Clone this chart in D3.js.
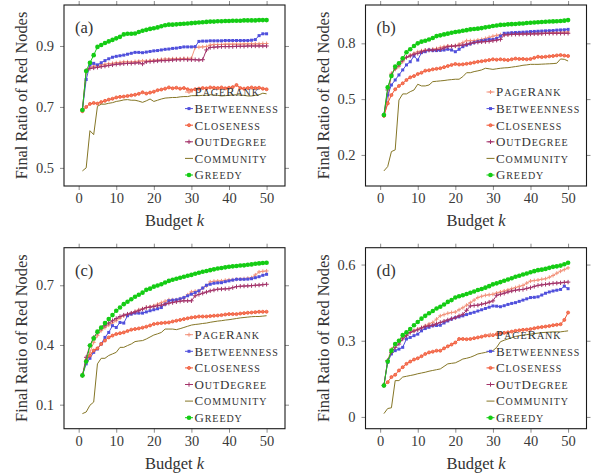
<!DOCTYPE html>
<html>
<head>
<meta charset="utf-8">
<script src="https://cdn.jsdelivr.net/npm/d3@7"></script>
<style>
  body { margin: 0; background: #fff; }
</style>
</head>
<body>
<div id="chart"></div>
<script>
const budgets = d3.range(1, 51)
const xTicks = [0, 10, 20, 30, 40, 50]
const seriesNames = ["PageRank", "Betweenness", "Closeness", "OutDegree", "Community", "Greedy"]
const panelLabels = ["(a)", "(b)", "(c)", "(d)"]
const yTicksA = [0.5, 0.7, 0.9]
const yTicksB = [0.2, 0.5, 0.8]
const yTicksC = [0.1, 0.4, 0.7]
const yTicksD = [0, 0.3, 0.6]

const pagerankA = [.690,.818,.830,.834,.835,.838,.840,.842,.843,.845,.846,.848,.848,.847,.849,.850,.851,.850,.852,.853,.854,.856,.857,.857,.858,.858,.858,.859,.859,.860,.895,.896,.897,.898,.903,.905,.905,.905,.906,.906,.906,.906,.906,.907,.907,.907,.907,.907,.908,.908]
const betweennessA = [.690,.790,.838,.843,.838,.845,.852,.858,.863,.866,.868,.870,.873,.876,.879,.879,.878,.880,.882,.884,.885,.887,.889,.890,.892,.893,.895,.897,.897,.897,.898,.915,.916,.916,.917,.917,.917,.917,.918,.918,.918,.918,.918,.918,.918,.919,.921,.934,.940,.940]
const closenessA = [.686,.700,.710,.713,.711,.716,.720,.724,.727,.731,.733,.734,.736,.738,.740,.743,.748,.744,.747,.750,.755,.757,.760,.764,.761,.763,.760,.762,.758,.755,.758,.760,.762,.761,.764,.763,.762,.764,.761,.763,.765,.772,.762,.760,.762,.764,.762,.763,.760,.758]
const communityA = [.490,.500,.622,.609,.702,.709,.709,.712,.714,.718,.720,.723,.724,.722,.722,.719,.715,.720,.726,.718,.722,.726,.729,.730,.731,.731,.733,.734,.734,.737,.737,.737,.738,.738,.740,.739,.738,.736,.737,.738,.739,.740,.739,.738,.736,.736,.738,.740,.745,.743]
const outdegreeA = [.690,.820,.826,.828,.830,.832,.834,.836,.838,.840,.841,.842,.843,.843,.844,.845,.841,.848,.849,.850,.851,.852,.852,.853,.854,.855,.855,.856,.855,.855,.855,.854,.855,.887,.895,.896,.897,.898,.898,.898,.898,.899,.899,.899,.900,.900,.900,.900,.900,.900]
const greedyA = [.690,.818,.845,.870,.897,.903,.910,.915,.920,.925,.930,.938,.940,.940,.941,.946,.950,.953,.956,.958,.961,.965,.968,.970,.970,.971,.972,.973,.974,.975,.976,.977,.978,.979,.980,.980,.981,.981,.982,.982,.983,.983,.983,.984,.984,.984,.984,.985,.985,.985]

const pagerankB = [.410,.474,.639,.660,.675,.701,.725,.737,.746,.755,.760,.764,.766,.768,.772,.778,.782,.786,.786,.786,.795,.804,.814,.814,.814,.818,.821,.826,.832,.838,.843,.846,.848,.851,.854,.854,.854,.854,.854,.855,.855,.856,.856,.857,.857,.858,.858,.859,.860,.861]
const betweennessB = [.415,.522,.576,.603,.630,.657,.684,.701,.732,.710,.750,.755,.764,.761,.761,.762,.764,.768,.764,.755,.768,.782,.791,.797,.804,.809,.814,.817,.821,.821,.827,.839,.854,.855,.857,.858,.859,.860,.861,.863,.864,.865,.866,.867,.868,.869,.871,.872,.873,.875]
const closenessB = [.410,.478,.522,.553,.571,.585,.603,.617,.624,.635,.642,.653,.655,.660,.663,.666,.672,.678,.684,.689,.686,.687,.690,.693,.697,.701,.704,.707,.710,.714,.712,.714,.712,.710,.714,.718,.716,.716,.714,.716,.722,.728,.726,.728,.730,.732,.735,.737,.734,.732]
const communityB = [.114,.137,.218,.227,.495,.528,.528,.540,.549,.580,.571,.571,.576,.594,.596,.598,.600,.603,.605,.607,.607,.621,.642,.642,.648,.652,.657,.666,.663,.660,.663,.666,.668,.669,.672,.675,.678,.682,.684,.687,.687,.687,.688,.689,.690,.691,.693,.716,.714,.705]
const outdegreeB = [.415,.549,.630,.666,.684,.710,.725,.732,.741,.746,.754,.761,.763,.764,.766,.768,.775,.782,.784,.786,.788,.791,.795,.800,.804,.806,.808,.809,.811,.814,.817,.821,.845,.846,.848,.849,.849,.850,.850,.850,.851,.851,.852,.853,.854,.854,.854,.854,.854,.854]
const greedyB = [.415,.563,.624,.675,.693,.720,.752,.768,.786,.800,.809,.814,.821,.829,.839,.843,.848,.852,.857,.861,.864,.868,.871,.875,.877,.879,.882,.886,.889,.893,.896,.899,.900,.902,.903,.904,.906,.907,.909,.911,.912,.913,.915,.916,.917,.918,.919,.920,.922,.925]

const pagerankC = [.247,.317,.363,.413,.447,.472,.487,.500,.511,.522,.535,.547,.553,.560,.568,.577,.582,.588,.592,.597,.605,.613,.620,.627,.627,.627,.632,.638,.652,.667,.670,.672,.685,.697,.717,.720,.721,.722,.725,.727,.728,.730,.731,.733,.735,.738,.752,.767,.770,.772]
const betweennessC = [.247,.305,.333,.363,.380,.405,.438,.463,.497,.488,.513,.510,.547,.555,.560,.560,.560,.566,.572,.577,.582,.588,.605,.622,.625,.627,.632,.638,.647,.655,.663,.672,.686,.700,.705,.710,.712,.713,.718,.722,.726,.730,.730,.730,.731,.733,.738,.743,.750,.755]
const closenessC = [.247,.322,.347,.372,.383,.405,.422,.438,.447,.455,.459,.463,.470,.477,.480,.483,.487,.492,.498,.505,.508,.510,.512,.513,.518,.522,.526,.530,.534,.538,.540,.543,.543,.543,.545,.547,.548,.550,.553,.555,.555,.555,.558,.560,.562,.563,.565,.567,.567,.567]
const communityC = [.055,.063,.097,.113,.305,.333,.333,.347,.355,.363,.388,.388,.397,.405,.417,.420,.422,.430,.440,.450,.456,.463,.480,.480,.480,.477,.482,.488,.494,.500,.503,.505,.508,.510,.514,.517,.520,.522,.525,.527,.530,.533,.536,.538,.540,.542,.543,.543,.545,.547]
const outdegreeC = [.247,.338,.397,.438,.463,.483,.497,.510,.522,.533,.543,.550,.555,.560,.566,.572,.580,.588,.590,.593,.597,.600,.605,.610,.613,.617,.620,.622,.622,.622,.647,.654,.660,.666,.672,.676,.680,.681,.682,.683,.688,.693,.695,.696,.697,.698,.700,.701,.703,.705]
const greedyC = [.247,.317,.397,.433,.467,.488,.510,.530,.550,.572,.588,.605,.617,.630,.642,.652,.663,.677,.683,.693,.699,.705,.714,.722,.728,.733,.738,.743,.748,.752,.758,.763,.768,.772,.776,.780,.784,.787,.790,.793,.795,.797,.799,.800,.803,.805,.808,.810,.812,.813]

const pagerankD = [.124,.222,.267,.287,.300,.313,.323,.333,.340,.346,.352,.359,.366,.372,.385,.398,.403,.408,.411,.413,.422,.430,.440,.450,.460,.470,.475,.479,.481,.483,.488,.492,.496,.500,.505,.509,.514,.518,.527,.535,.537,.539,.542,.544,.550,.557,.566,.574,.580,.587]
const betweennessD = [.124,.215,.248,.261,.267,.274,.307,.313,.320,.326,.339,.348,.353,.359,.360,.361,.370,.378,.385,.391,.394,.398,.403,.408,.412,.417,.422,.427,.432,.437,.436,.434,.438,.443,.447,.450,.455,.460,.465,.470,.471,.473,.480,.487,.492,.496,.499,.502,.515,.505]
const closenessD = [.124,.137,.157,.166,.183,.196,.209,.218,.226,.231,.239,.248,.254,.257,.261,.261,.270,.278,.285,.293,.307,.307,.306,.307,.310,.313,.316,.320,.321,.322,.326,.330,.331,.333,.336,.339,.341,.343,.344,.346,.349,.352,.354,.356,.358,.361,.363,.365,.382,.411]
const communityD = [.013,.033,.036,.143,.143,.157,.160,.163,.166,.170,.173,.176,.180,.183,.186,.189,.199,.209,.211,.213,.220,.228,.231,.235,.241,.248,.251,.254,.258,.261,.274,.296,.302,.307,.312,.317,.320,.322,.324,.326,.328,.330,.332,.333,.334,.335,.335,.335,.337,.339]
const outdegreeD = [.124,.222,.254,.274,.287,.307,.320,.333,.338,.343,.350,.356,.359,.361,.367,.372,.377,.382,.387,.391,.398,.404,.420,.437,.439,.440,.444,.447,.452,.457,.479,.483,.487,.492,.496,.499,.501,.502,.506,.509,.514,.518,.520,.522,.524,.526,.527,.528,.530,.531]
const greedyD = [.124,.218,.261,.287,.300,.322,.333,.346,.361,.374,.387,.398,.408,.417,.427,.434,.443,.453,.460,.470,.475,.479,.484,.489,.494,.500,.504,.509,.515,.522,.526,.531,.536,.541,.546,.552,.556,.561,.565,.570,.574,.578,.580,.583,.587,.591,.593,.596,.601,.607]

const panelSeries = [
    [pagerankA, betweennessA, closenessA, outdegreeA, communityA, greedyA],
    [pagerankB, betweennessB, closenessB, outdegreeB, communityB, greedyB],
    [pagerankC, betweennessC, closenessC, outdegreeC, communityC, greedyC],
    [pagerankD, betweennessD, closenessD, outdegreeD, communityD, greedyD]]
const panelYTicks = [yTicksA, yTicksB, yTicksC, yTicksD]

// look of each series: colour and marker
const styles = [
    {color: "#f2937c", mark: "plus", size: 2},
    {color: "#5050dc", mark: "square", size: 1.5},
    {color: "#f05434", mark: "circle", size: 1.5},
    {color: "#a3336a", mark: "plus", size: 2.2},
    {color: "#857626", mark: "none", size: 0},
    {color: "#14cc14", mark: "dot", size: 2.3}]

const W = 593, H = 476
const pw = 221, ph = 181
const origins = [[64, 5], [365.5, 5], [64, 247.7], [365.5, 247.7]]
const serif = '"Liberation Serif", "Times New Roman", serif'

let svg = d3.select("#chart").append("svg")
    .attr("width", W).attr("height", H)
    .style("background", "#fff")

// small caps like the LaTeX legend: capitals big, the rest as smaller capitals
function smallCaps(textSel, str, big, small) {
    let runs = []
    for (let ch of str) {
        let up = ch === ch.toUpperCase()
        if (runs.length && runs[runs.length - 1].up === up) runs[runs.length - 1].s += ch
        else runs.push({up: up, s: ch})
    }
    textSel.selectAll("tspan").data(runs).enter().append("tspan")
        .attr("font-size", d => d.up ? big : small)
        .text(d => d.s.toUpperCase())
}

function drawMark(g, st, x, y) {
    if (st.mark === "plus") {
        g.append("path").attr("transform", `translate(${x},${y})`)
            .attr("d", `M${-st.size},0H${st.size}M0,${-st.size}V${st.size}`)
            .attr("stroke", st.color).attr("stroke-width", 1).attr("fill", "none")
    } else if (st.mark === "square") {
        g.append("rect").attr("x", x - st.size).attr("y", y - st.size)
            .attr("width", st.size * 2).attr("height", st.size * 2).attr("fill", st.color)
    } else if (st.mark === "circle") {
        g.append("circle").attr("cx", x).attr("cy", y).attr("r", st.size)
            .attr("fill", "#f47a5c").attr("stroke", st.color).attr("stroke-width", 0.8)
    } else if (st.mark === "dot") {
        g.append("circle").attr("cx", x).attr("cy", y).attr("r", st.size).attr("fill", st.color)
    }
}

function drawPanel(i) {
    let [ox, oy] = origins[i]
    let data = panelSeries[i]
    let g = svg.append("g").attr("transform", `translate(${ox},${oy})`)

    // pgfplots style: 10% enlargement of the data range on each side
    let xs = d3.scaleLinear().domain([1 - 4.9, 50 + 4.9]).range([0, pw])
    let ext = d3.extent(data.flat())
    let pad = (ext[1] - ext[0]) * 0.1
    let ys = d3.scaleLinear().domain([ext[0] - pad, ext[1] + pad]).range([ph, 0])

    let styleAxis = (a) => {
        a.attr("font-family", null)
        a.select(".domain").remove()
        a.selectAll("line").attr("stroke", "#8c8c8c")
        a.selectAll("text").style("font-family", serif).style("font-size", "14.5px").attr("fill", "#3a3a3a")
    }
    let yt = panelYTicks[i]
    g.append("g").call(d3.axisLeft(ys).tickValues(yt).tickSize(4).tickPadding(6).tickFormat(d => String(d))).call(styleAxis)
    g.append("g").attr("transform", `translate(${pw},0)`)
        .call(d3.axisRight(ys).tickValues(yt).tickSize(4).tickFormat("")).call(styleAxis)
    g.append("g").attr("transform", `translate(0,${ph})`)
        .call(d3.axisBottom(xs).tickValues(xTicks).tickSize(4).tickPadding(3)).call(styleAxis)
    g.append("g").call(d3.axisTop(xs).tickValues(xTicks).tickSize(4).tickFormat("")).call(styleAxis)

    // lines then markers, in legend order so Greedy ends on top
    let plot = g.append("g")
    data.forEach((vals, s) => {
        let st = styles[s]
        let line = d3.line().x((d, j) => xs(budgets[j])).y(d => ys(d))
        plot.append("path").attr("d", line(vals))
            .attr("fill", "none").attr("stroke", st.color).attr("stroke-width", 1)
        let mg = plot.append("g")
        vals.forEach((v, j) => drawMark(mg, st, xs(budgets[j]), ys(v)))
    })

    // legend, no box
    let leg = g.append("g")
    seriesNames.forEach((name, s) => {
        let cy = 87 + s * 16.6
        let st = styles[s]
        leg.append("line").attr("x1", 121).attr("x2", 129).attr("y1", cy).attr("y2", cy)
            .attr("stroke", st.color).attr("stroke-width", 1)
        drawMark(leg, st, 125, cy)
        let t = leg.append("text").attr("x", 130.5).attr("y", cy + 4.3)
            .style("font-family", serif).attr("fill", "#333").attr("letter-spacing", 0.9)
        smallCaps(t, name, 13, 10)
    })

    g.append("rect").attr("width", pw).attr("height", ph)
        .attr("fill", "none").attr("stroke", "#1a1a1a").attr("stroke-width", 1.1)

    g.append("text").attr("x", 11).attr("y", 28).style("font-family", serif)
        .attr("font-size", 16.5).attr("fill", "#333").text(panelLabels[i])

    g.append("text").attr("transform", `translate(-37,${ph / 2}) rotate(-90)`)
        .style("font-family", serif)
        .attr("text-anchor", "middle").attr("font-size", 16.4).attr("fill", "#333")
        .text("Final Ratio of Red Nodes")

    let xl = g.append("text").attr("x", pw / 2).attr("y", ph + 40).style("font-family", serif)
        .attr("text-anchor", "middle").attr("font-size", 16.5).attr("fill", "#333")
    xl.append("tspan").text("Budget ")
    xl.append("tspan").attr("font-style", "italic").text("k")
}

for (let i = 0; i < 4; i++) drawPanel(i)
</script>
</body>
</html>
